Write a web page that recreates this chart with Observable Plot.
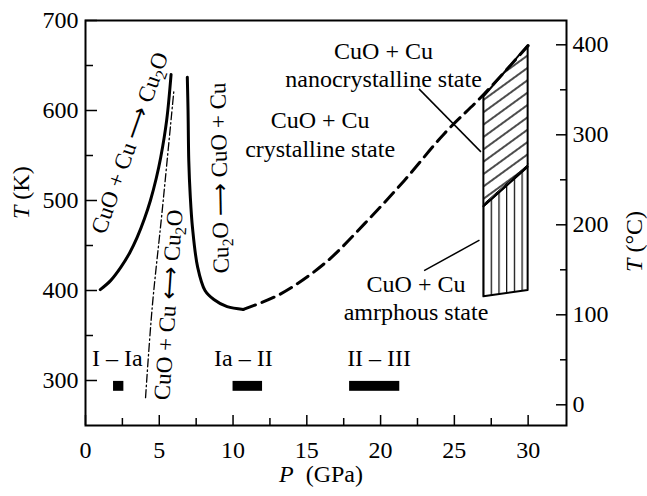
<!DOCTYPE html>
<html><head><meta charset="utf-8">
<script src="https://cdn.jsdelivr.net/npm/d3@7"></script>
<script src="https://cdn.jsdelivr.net/npm/@observablehq/plot@0.6"></script>
<style>body{margin:0;background:#fff} svg{display:block}</style>
</head><body><div id="chart"></div>
<script>
// Solid curve: CuO + Cu -> Cu2O boundary
const leftP = [1.0, 1.7, 2.4, 3.0, 3.5, 4.0, 4.4, 4.8, 5.1, 5.5, 5.8];
const leftT = [401, 411, 426, 442, 459, 480, 500, 525, 548, 589, 640];
// Solid curve: Cu2O -> CuO + Cu boundary
const rightP = [6.9, 6.95, 7.0, 7.1, 7.25, 7.6, 8.1, 8.7, 9.6, 10.7];
const rightT = [637, 600, 544, 505, 470, 426, 400, 390, 382, 379];
// Dashed continuation
const dashP = [10.7, 13.2, 16.2, 18.9, 21.6, 24.3, 27.0, 30.0];
const dashT = [379, 396, 430, 474, 522, 574, 618, 672];
// Dash-dot equilibrium line
const dashDotP = [4.07, 4.52, 5.2, 5.99];
const dashDotT = [281, 381, 489, 622];
// Hatched regions (P at left/right edges)
const regionP = [27, 30];
const nanoLowT = [493, 537];
const nanoHighT = [615, 672];
const amorLowT = [393, 400];
const amorHighT = [493, 537];
// Leader lines
const leaderP1 = [22.6, 22.95];
const leaderT1 = [624, 422];
const leaderP2 = [26.8, 26.7];
const leaderT2 = [554, 456];
// Phase transition bars
const barLabels = ["I – Ia", "Ia – II", "II – III"];
const barP1 = [1.9, 10.0, 17.9];
const barP2 = [2.6, 12.0, 21.3];
const barT1 = [288, 288, 288];
const barT2 = [299, 299, 299];
const barLabelP = [2.15, 10.7, 19.9];
const barLabelT = [325, 325, 325];
// Region labels
const regionLabels = ["CuO + Cu\nnanocrystalline state", "CuO + Cu\ncrystalline state", "CuO + Cu\namrphous state"];
const regionLabelP = [20.2, 15.9, 22.4];
const regionLabelT = [652, 575, 393];
// Reaction labels (rotated)
const reactLabels = ["CuO + Cu ⟶ Cu2O", "CuO + Cu ⟷ Cu2O", "Cu2O ⟶ CuO + Cu"];
const reactP = [3.0, 5.63, 9.09];
const reactT = [564, 384, 525];
const reactAngle = [-70.5, -86, -91];
// Ticks
const xMajor = [0, 5, 10, 15, 20, 25, 30];
const xMinor = [2.5, 7.5, 12.5, 17.5, 22.5, 27.5];
const yMajor = [300, 400, 500, 600, 700];
const yMinor = [350, 450, 550, 650];
const cMajor = [0, 100, 200, 300, 400];
const cMinor = [50, 150, 250, 350];

const K0 = 273;
const FONT = '"Liberation Serif", "Times New Roman", serif';
const ax = {label: null, strokeWidth: 1.5, fontFamily: FONT, fontSize: 24};
const svg = Plot.plot({
  width: 647, height: 496,
  marginLeft: 85, marginRight: 81, marginTop: 20, marginBottom: 71,
  x: {domain: [0, 32.6]},
  y: {domain: [250, 700]},
  style: {fontFamily: FONT, fontSize: "24px", background: "#fff", color: "#000", overflow: "visible"},
  marks: [
    Plot.areaY(regionP, {x: regionP, y1: nanoLowT, y2: nanoHighT, fill: "url(#hatchDiag)", stroke: "black", strokeWidth: 2}),
    Plot.areaY(regionP, {x: regionP, y1: amorLowT, y2: amorHighT, fill: "url(#hatchVert)", stroke: "black", strokeWidth: 2}),
    Plot.line(regionP, {x: regionP, y: amorHighT, stroke: "black", strokeWidth: 1, dy: -3}),
    Plot.line(leftP, {x: leftP, y: leftT, curve: "catmull-rom", strokeWidth: 3}),
    Plot.line(rightP, {x: rightP, y: rightT, curve: "catmull-rom", strokeWidth: 3}),
    Plot.line(dashP, {x: dashP, y: dashT, curve: "catmull-rom", strokeWidth: 3, strokeDasharray: "13,7"}),
    Plot.line(dashDotP, {x: dashDotP, y: dashDotT, curve: "catmull-rom", strokeWidth: 1.3, strokeDasharray: "8,3,1.5,3"}),
    Plot.link(leaderP1, {x1: leaderP1, y1: leaderT1, x2: leaderP2, y2: leaderT2, strokeWidth: 1.5}),
    Plot.rect(barLabels, {x1: barP1, x2: barP2, y1: barT1, y2: barT2, fill: "black"}),
    Plot.text(barLabels, {x: barLabelP, y: barLabelT, text: d => d}),
    Plot.text(regionLabels, {x: regionLabelP, y: regionLabelT, text: d => d, lineHeight: 1.2}),
    ...reactLabels.map((s, i) => Plot.text([s], {x: [reactP[i]], y: [reactT[i]], text: d => d, rotate: reactAngle[i], fontSize: 23})),
    Plot.axisX(xMajor, {...ax, anchor: "bottom", tickSize: -10, tickPadding: 25}),
    Plot.axisX(xMinor, {...ax, anchor: "bottom", tickSize: -7, tickFormat: () => ""}),
    Plot.axisY(yMajor, {...ax, anchor: "left", tickSize: -12, tickPadding: 19}),
    Plot.axisY(yMinor, {...ax, anchor: "left", tickSize: -8, tickFormat: () => ""}),
    Plot.axisY(cMajor.map(c => c + K0), {...ax, anchor: "right", tickSize: -11, tickPadding: 17, tickFormat: k => k - K0}),
    Plot.axisY(cMinor.map(c => c + K0), {...ax, anchor: "right", tickSize: -7, tickFormat: () => ""}),
    Plot.text(["T (K)"], {frameAnchor: "left", dx: -64, dy: -4, rotate: -90, text: d => d}),
    Plot.text(["T (°C)"], {frameAnchor: "right", dx: 68, dy: -12, rotate: -90, text: d => d}),
    Plot.text(["P (GPa)"], {frameAnchor: "bottom", dx: -5, dy: 56, text: d => d}),
    Plot.frame({strokeWidth: 2})
  ]
});

// Hatch patterns
const defs = d3.select(svg).insert("defs", ":first-child");
defs.html(`
<pattern id="hatchDiag" patternUnits="userSpaceOnUse" width="10" height="10" patternTransform="rotate(-36)">
  <line x1="0" y1="5" x2="10" y2="5" stroke="black" stroke-width="1.4"/>
</pattern>
<pattern id="hatchVert" patternUnits="userSpaceOnUse" x="483" width="7.7" height="10">
  <line x1="0" y1="0" x2="0" y2="10" stroke="black" stroke-width="2.4"/>
</pattern>`);

// Typographic touches: italics and subscripts
d3.select(svg).selectAll("text").each(function() {
  const s = this.textContent;
  if (this.querySelector("tspan")) return;
  if (s === "T (K)" || s === "T (°C)") {
    this.innerHTML = `<tspan font-style="italic">T</tspan> ${s.slice(2)}`;
  } else if (s === "P (GPa)") {
    this.innerHTML = `<tspan font-style="italic">P</tspan>\u00a0\u00a0(GPa)`;
  } else if (s.includes("Cu2O")) {
    this.innerHTML = s.replace(/Cu2O/g, 'Cu<tspan dy="5" font-size="16px">2</tspan><tspan dy="-5">O</tspan>');
  }
});
document.getElementById("chart").appendChild(svg);
</script>
</body></html>
